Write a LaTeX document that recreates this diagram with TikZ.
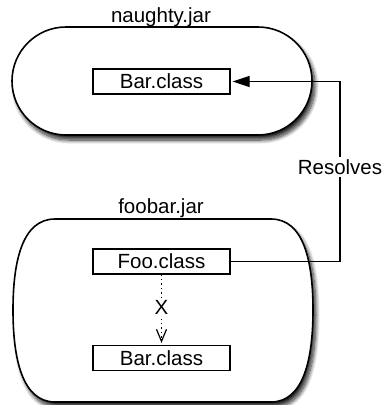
\documentclass[tikz,border=0pt]{standalone}
\usepackage{fontspec}
\setmainfont{Liberation Sans}
\usetikzlibrary{arrows.meta,shadows.blur}
\begin{document}
\begin{tikzpicture}[x=1pt,y=-1pt,
  font=\fontsize{20.5}{24}\selectfont,
  jar/.style={draw=black, line width=1.6pt, fill=white,
    blur shadow={shadow xshift=3pt, shadow yshift=-5pt, shadow blur radius=4pt, shadow blur steps=10, shadow opacity=85}},
  cls/.style={draw=black, line width=1.2pt, fill=white, minimum width=137pt, minimum height=25pt, inner sep=0pt},
  lbl/.style={inner sep=0pt},
  conn/.style={line width=1.2pt}]
\useasboundingbox (0,0) rectangle (384,405);
% top jar
\node[jar, minimum width=300pt, minimum height=108pt, rounded corners=54pt, inner sep=0pt] (naughty) at (162,81) {};
\node[lbl, anchor=base] (naughtylbl) at (161,22) {naughty.jar};
\node[cls] (bar1) at (161.5,81.5) {Bar.class};
% bottom jar
\path[jar] (55,219) -- (271,219) .. controls (304,219) and (313,262) .. (313,310)
  .. controls (313,358) and (304,402) .. (271,402) -- (55,402)
  .. controls (22,402) and (13,358) .. (13,310)
  .. controls (13,262) and (22,219) .. (55,219) -- cycle;
\node[lbl, anchor=base] (foobarlbl) at (161,213) {foobar.jar};
\node[cls] (foo) at (161.5,261.5) {Foo.class};
\node[cls] (bar2) at (161.5,358) {Bar.class};
% resolves connector
\coordinate (c1) at (340,261.5);
\coordinate (c2) at (340,81.5);
\draw[conn, -{Triangle[length=17pt,width=11pt,fill=black]}, shorten >=2pt]
  (foo.east) -- (c1) -- node[pos=0.525, fill=white, inner sep=2pt] (res) {Resolves} (c2) -- (bar1.east);
% dotted failed link
\draw[conn, dash pattern=on 1.4pt off 3pt, -{Straight Barb[length=12pt,width=10pt]}, shorten >=2pt]
  (foo.south) -- node[pos=0.47, fill=white, inner sep=1pt] (x) {X} (bar2.north);
\end{tikzpicture}
\end{document}
